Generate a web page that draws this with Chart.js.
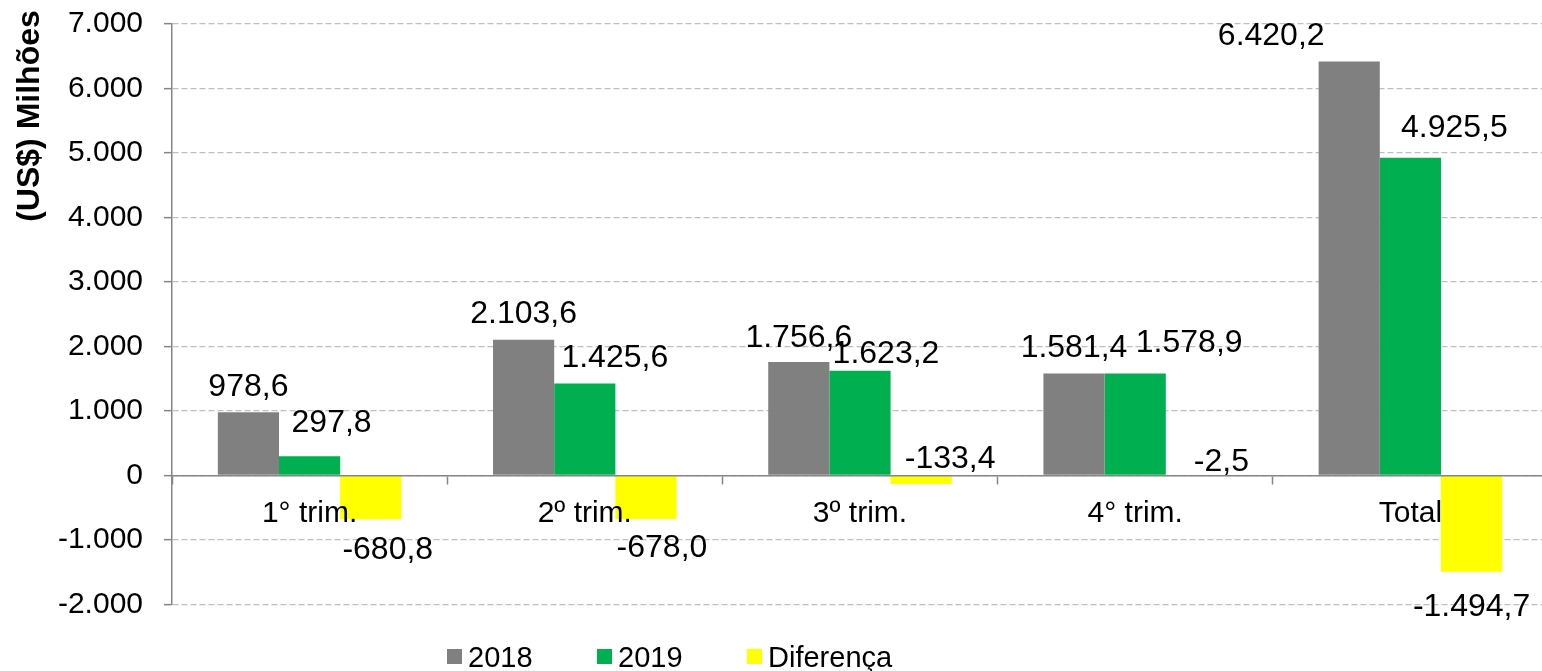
<!DOCTYPE html>
<html><head><meta charset="utf-8">
<script src="https://cdn.jsdelivr.net/npm/chart.js@4"></script>
<style>html,body{margin:0;padding:0;background:#fff}#wrap{width:1542px;height:671px;position:relative}</style>
</head><body><div id="wrap"><canvas id="c"></canvas></div>
<script>
const categories = ['1° trim.', '2º trim.', '3º trim.', '4° trim.', 'Total'];
const seriesNames = ['2018', '2019', 'Diferença'];
const values2018 = [978.6, 2103.6, 1756.6, 1581.4, 6420.2];
const values2019 = [297.8, 1425.6, 1623.2, 1578.9, 4925.5];
const valuesDiff = [-680.8, -678.0, -133.4, -2.5, -1494.7];
const yMin = -2000, yMax = 7000, yStep = 1000;
const yTitle = '(US$) Milhões';

// label nudges (pixels) relative to the default spot above/below each bar end
const labelDx = [[0, 0, 0, 0, -78], [22, 30, 26, 54, 44], [17, 16, 29, 25, 0]];
const labelDy = [[0, 0, 1, 0, 0], [-8, 0, 9, -5, -4], [0, -2, -55, -44, 5]];

const FONT = '"Liberation Sans", Arial, Helvetica, sans-serif';
Chart.defaults.font.family = FONT;
Chart.defaults.color = '#000';

function fmtThousands(intStr) {
  return intStr.replace(/\B(?=(\d{3})+(?!\d))/g, '.');
}
function fmtTick(v) {
  const neg = v < 0;
  return (neg ? '-' : '') + fmtThousands(String(Math.abs(Math.round(v))));
}
function fmtVal(v) {
  const neg = v < 0;
  const parts = Math.abs(v).toFixed(1).split('.');
  return (neg ? '-' : '') + fmtThousands(parts[0]) + ',' + parts[1];
}

const extendRight = {
  id: 'extendRight',
  afterLayout(chart) {
    const extra = 6;
    chart.chartArea.right += extra;
    chart.chartArea.width += extra;
    const x = chart.scales.x;
    x.right += extra;
    x.width += extra;
    x.configure();
  }
};

const dataLabels = {
  id: 'dataLabels',
  afterDatasetsDraw(chart) {
    const ctx = chart.ctx;
    const size = 32;
    ctx.save();
    ctx.font = size + 'px ' + FONT;
    ctx.fillStyle = '#000';
    ctx.textAlign = 'center';
    ctx.textBaseline = 'alphabetic';
    chart.data.datasets.forEach((ds, di) => {
      const meta = chart.getDatasetMeta(di);
      meta.data.forEach((bar, i) => {
        const v = ds.data[i];
        const cy = (v >= 0 ? bar.y - 28 : bar.y + 28) + labelDy[di][i];
        const cx = bar.x + labelDx[di][i];
        ctx.fillText(fmtVal(v), cx, cy + 0.358 * size);
      });
    });
    ctx.restore();
  }
};

const extras = {
  id: 'extras',
  afterDraw(chart) {
    const ctx = chart.ctx;
    ctx.save();
    // y axis title
    ctx.font = 'bold 32px ' + FONT;
    ctx.fillStyle = '#000';
    ctx.translate(39, 116);
    ctx.rotate(-Math.PI / 2);
    ctx.textAlign = 'center';
    ctx.textBaseline = 'alphabetic';
    ctx.fillText(yTitle, 0, 0);
    ctx.restore();
    // legend
    ctx.save();
    ctx.font = '29px ' + FONT;
    ctx.textBaseline = 'alphabetic';
    ctx.textAlign = 'left';
    let x = 447;
    const box = 15, boxY = 649, baseY = 666.5;
    chart.data.datasets.forEach(ds => {
      ctx.fillStyle = ds.backgroundColor;
      ctx.fillRect(x, boxY, box, box);
      ctx.fillStyle = '#000';
      ctx.fillText(ds.label, x + box + 6, baseY);
      x += box + 6 + ctx.measureText(ds.label).width + 64.5;
    });
    ctx.restore();
  }
};

new Chart(document.getElementById('c'), {
  type: 'bar',
  data: {
    labels: categories,
    datasets: [
      { label: seriesNames[0], data: values2018, backgroundColor: '#808080' },
      { label: seriesNames[1], data: values2019, backgroundColor: '#00B050' },
      { label: seriesNames[2], data: valuesDiff, backgroundColor: '#FFFF00' }
    ]
  },
  options: {
    responsive: true,
    maintainAspectRatio: false,
    animation: false,
    devicePixelRatio: 1,
    categoryPercentage: 0.667,
    barPercentage: 1,
    borderWidth: 0,
    layout: { padding: { top: 24, bottom: 66.7, left: 0, right: 0 } },
    plugins: {
      legend: { display: false },
      tooltip: { enabled: false }
    },
    scales: {
      x: {
        position: { y: 0 },
        offset: true,
        afterFit(scale) { scale.paddingTop = 0; scale.paddingBottom = 0; scale.paddingLeft = 0; scale.paddingRight = 0; },
        grid: { z: 1, offset: true, drawOnChartArea: false, drawTicks: true, tickLength: 8, tickColor: '#868686', tickWidth: 1.5 },
        border: { z: 1, display: true, color: '#868686', width: 1.5 },
        ticks: { z: 1, font: { size: 30 }, color: '#000', padding: 12, maxRotation: 0, autoSkip: false }
      },
      y: {
        min: yMin,
        max: yMax,
        afterFit(scale) { scale.width = 172; scale.paddingTop = 0; scale.paddingBottom = 0; },
        grid: { color: '#BFBFBF', lineWidth: 1.3, tickColor: '#868686', tickLength: 8, tickWidth: 1.5 },
        border: { display: true, color: '#868686', width: 1.5, dash: [6, 3] },
        ticks: { stepSize: yStep, font: { size: 30 }, color: '#000', padding: 21, callback: v => fmtTick(v) }
      }
    }
  },
  plugins: [extendRight, dataLabels, extras]
});
</script>
</body></html>
